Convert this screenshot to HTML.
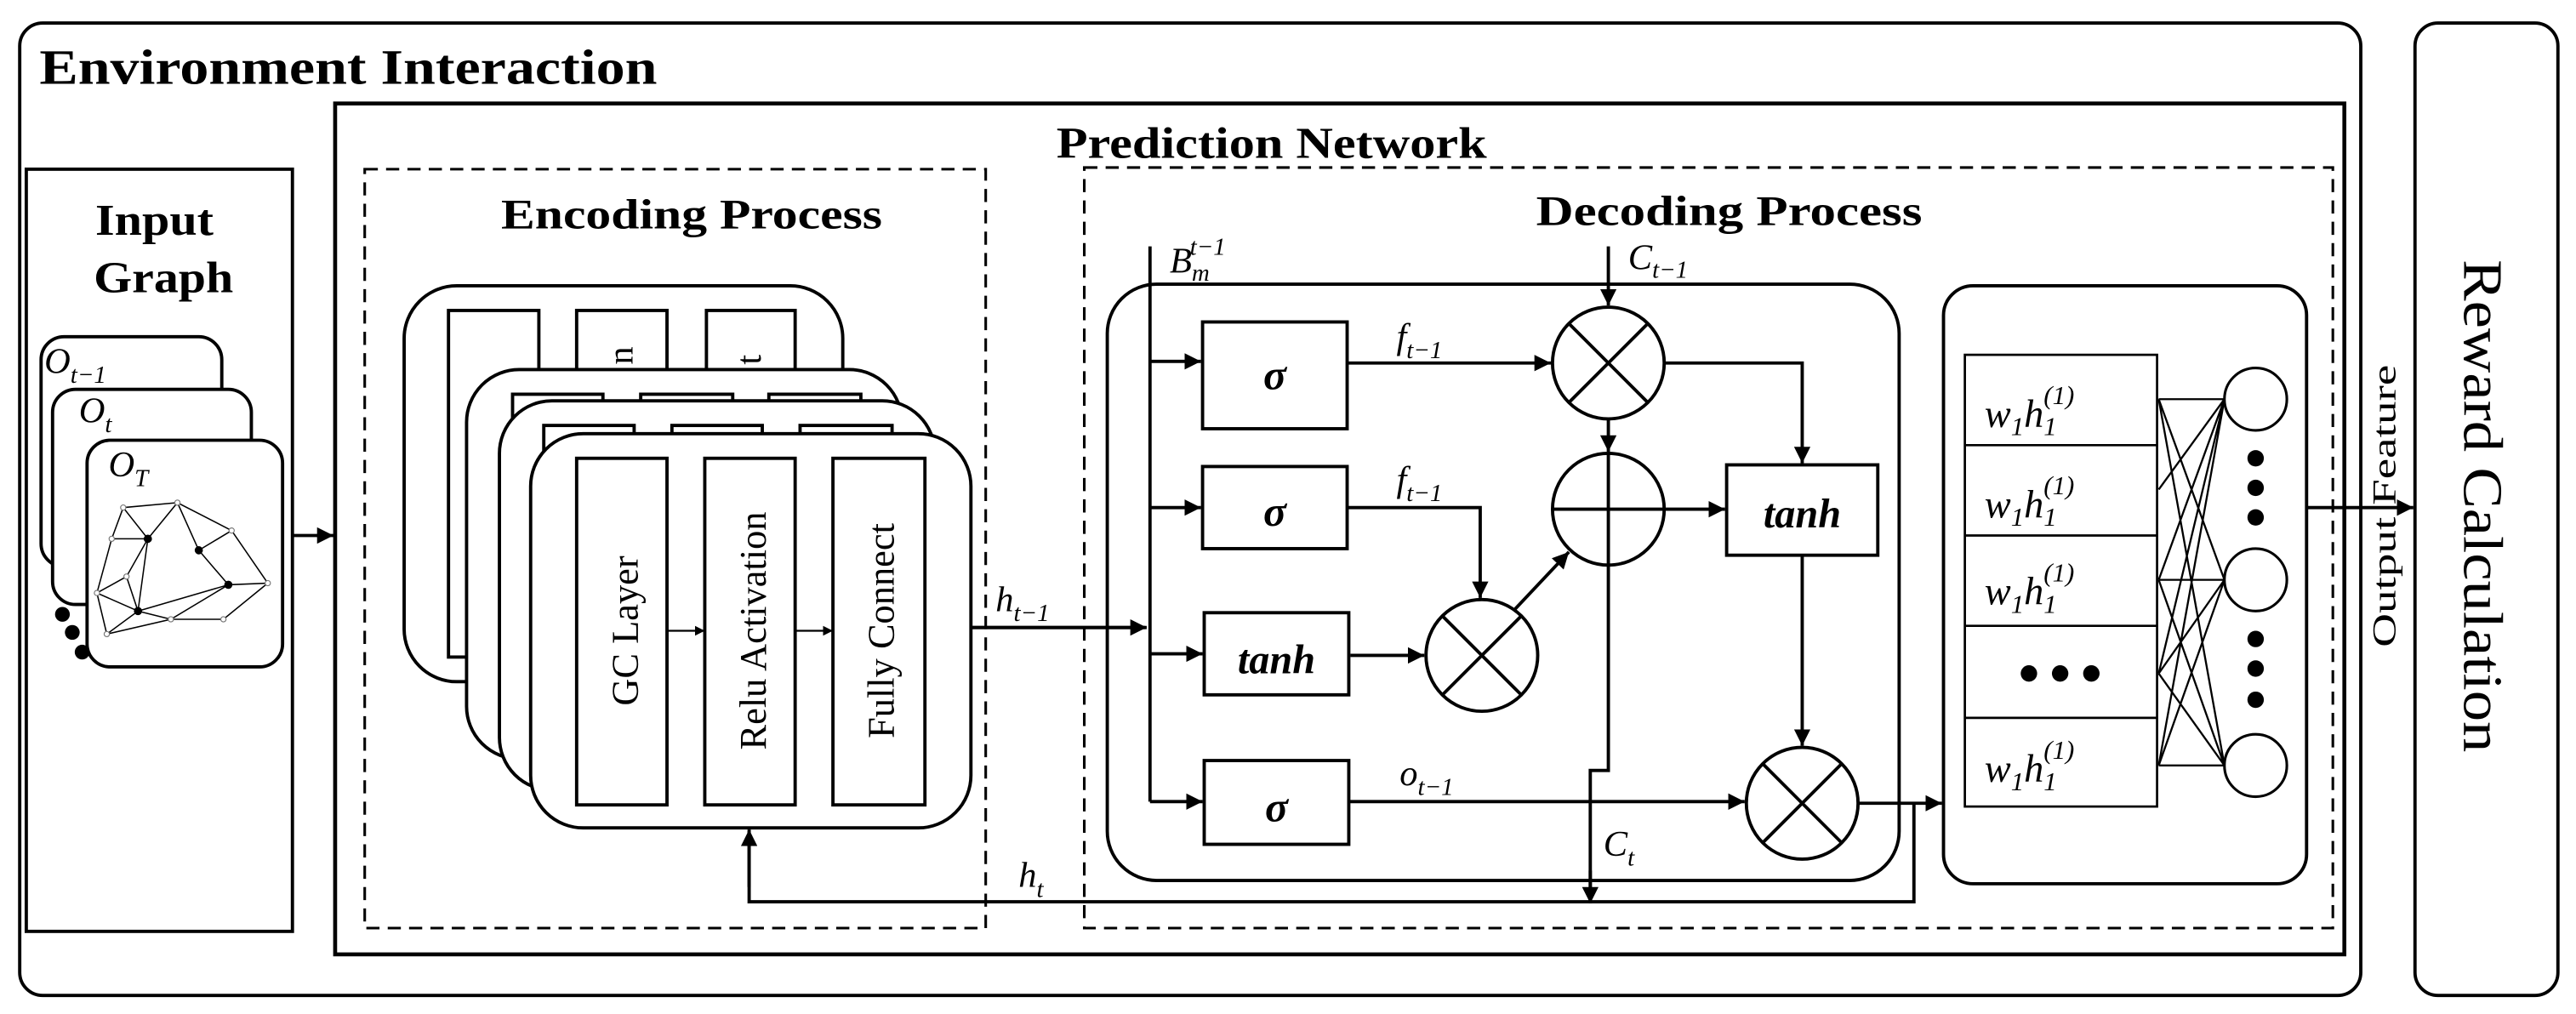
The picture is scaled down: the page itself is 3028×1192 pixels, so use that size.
<!DOCTYPE html>
<html><head><meta charset="utf-8"><style>
html,body{margin:0;padding:0;background:#fff;}
svg{display:block;}
text{font-family:"Liberation Serif",serif;fill:#000;}
.b{font-weight:bold;}
.i{font-style:italic;}
</style></head><body>
<svg width="3028" height="1192" viewBox="0 0 1568 617.3" preserveAspectRatio="none" xmlns="http://www.w3.org/2000/svg">
<defs>
<marker id="a" viewBox="0 0 10 10" refX="10" refY="5" markerWidth="5" markerHeight="5" orient="auto"><path d="M0,0L10,5L0,10z" fill="#000"/></marker>
</defs>
<g fill="none" stroke="#000" stroke-width="2">
<rect x="12" y="14" width="1425" height="592" rx="14"/>
<rect x="1470" y="14" width="87" height="592" rx="14"/>
<rect x="204" y="63" width="1223" height="518" stroke-width="2.4"/>
<rect x="16" y="103" width="162" height="464"/>
<rect x="222" y="103" width="378" height="462" stroke-dasharray="8,5" stroke-width="1.6"/>
<rect x="660" y="102" width="760" height="463" stroke-dasharray="8,5" stroke-width="1.6"/>
</g>
<text x="24" y="51" class="b" font-size="30" textLength="376" lengthAdjust="spacingAndGlyphs">Environment Interaction</text>
<text x="643" y="96" class="b" font-size="27" textLength="262" lengthAdjust="spacingAndGlyphs">Prediction Network</text>
<text x="58" y="143" class="b" font-size="27" textLength="72" lengthAdjust="spacingAndGlyphs">Input</text>
<text x="57" y="178" class="b" font-size="27" textLength="85" lengthAdjust="spacingAndGlyphs">Graph</text>
<text x="305" y="139" class="b" font-size="26" textLength="232" lengthAdjust="spacingAndGlyphs">Encoding Process</text>
<text x="935" y="137" class="b" font-size="26" textLength="235" lengthAdjust="spacingAndGlyphs">Decoding Process</text>

<g fill="#fff" stroke="#000" stroke-width="2">
<rect x="25" y="205" width="110" height="140" rx="14"/>
<rect x="32" y="237" width="121" height="131" rx="14"/>
<rect x="53" y="268" width="119" height="138" rx="14"/>
</g>
<text x="27" y="227" class="i" font-size="22">O<tspan font-size="15" dy="6">t−1</tspan></text>
<text x="48" y="257" class="i" font-size="22">O<tspan font-size="15" dy="6">t</tspan></text>
<text x="66" y="290" class="i" font-size="22">O<tspan font-size="15" dy="6">T</tspan></text>
<g stroke="#000" stroke-width="0.8" fill="none">
<path d="M75,309L108,306L141,323L163,355L139,356L104,377L65,386L59,361L68,328L75,309L90,328L108,306L121,335L139,356M90,328L68,328M90,328L77,351L84,372L65,386M59,361L77,351L84,372L104,377M90,328L84,372M77,351L59,361M84,372L139,356M121,335L141,323M163,355L136,377L104,377M59,361L84,372"/>
</g>
<g fill="#000">
<circle cx="90" cy="328" r="2.5"/><circle cx="121" cy="335" r="2.5"/><circle cx="139" cy="356" r="2.5"/><circle cx="84" cy="372" r="2.5"/>
</g>
<g fill="#fff" stroke="#777" stroke-width="0.6">
<circle cx="75" cy="309" r="1.6"/><circle cx="108" cy="306" r="1.6"/><circle cx="141" cy="323" r="1.6"/><circle cx="163" cy="355" r="1.6"/><circle cx="68" cy="328" r="1.6"/><circle cx="77" cy="351" r="1.6"/><circle cx="59" cy="361" r="1.6"/><circle cx="104" cy="377" r="1.6"/><circle cx="136" cy="377" r="1.6"/><circle cx="65" cy="386" r="1.6"/>
</g>
<g fill="#000"><circle cx="38" cy="374" r="4.5"/><circle cx="44" cy="385" r="4.5"/><circle cx="50" cy="397" r="4.5"/></g>
<line x1="178" y1="326" x2="203" y2="326" stroke="#000" stroke-width="2" marker-end="url(#a)"/>

<g fill="#fff" stroke="#000" stroke-width="2">
<rect x="246" y="174" width="267" height="241" rx="32"/>
<rect x="273" y="189" width="55" height="211"/><rect x="351" y="189" width="55" height="211"/><rect x="430" y="189" width="54" height="211"/>
</g>
<text transform="translate(385,222) rotate(-90)" font-size="22">n</text>
<text transform="translate(463,222) rotate(-90)" font-size="22">t</text>
<g fill="#fff" stroke="#000" stroke-width="2">
<rect x="284" y="225" width="265" height="237" rx="32"/>
<rect x="312" y="240" width="55" height="200"/><rect x="390" y="240" width="56" height="200"/><rect x="468" y="240" width="56" height="200"/>
<rect x="304" y="244" width="265" height="237" rx="32"/>
<rect x="331" y="259" width="55" height="200"/><rect x="409" y="259" width="55" height="200"/><rect x="487" y="259" width="56" height="200"/>
<rect x="323" y="264" width="268" height="240" rx="32"/>
<rect x="351" y="279" width="55" height="211"/><rect x="429" y="279" width="55" height="211"/><rect x="507" y="279" width="56" height="211"/>
</g>
<text transform="translate(388,384) rotate(-90)" font-size="23" text-anchor="middle">GC Layer</text>
<text transform="translate(466,384) rotate(-90)" font-size="23" text-anchor="middle">Relu Activation</text>
<text transform="translate(544,384) rotate(-90)" font-size="23" text-anchor="middle">Fully Connect</text>
<g stroke="#000" stroke-width="1.2">
<line x1="406" y1="384" x2="429" y2="384" marker-end="url(#a)"/>
<line x1="484" y1="384" x2="507" y2="384" marker-end="url(#a)"/>
</g>

<g fill="none" stroke="#000" stroke-width="2">
<rect x="674" y="173" width="482" height="363" rx="30"/>
<rect x="1183" y="174" width="221" height="364" rx="18"/>
<rect x="732" y="196" width="88" height="65"/>
<rect x="732" y="284" width="88" height="50"/>
<rect x="733" y="373" width="88" height="50"/>
<rect x="733" y="463" width="88" height="51"/>
<rect x="1051" y="283" width="92" height="55"/>
<circle cx="979" cy="221" r="34"/>
<circle cx="979" cy="310" r="34"/>
<circle cx="902" cy="399" r="34"/>
<circle cx="1097" cy="489" r="34"/>
<path d="M955,197L1003,245M1003,197L955,245M878,375L926,423M926,375L878,423M1073,465L1121,513M1121,465L1073,513"/>
<path d="M945,310H1013M979,276V469H968V549" />
<path d="M591,382H697"/>
<path d="M700,150V488"/>
<path d="M1165,489V549H456V506"/>
</g>
<g stroke="#000" stroke-width="2" fill="none">
<line x1="591" y1="382" x2="698" y2="382" marker-end="url(#a)"/>
<line x1="700" y1="220" x2="731" y2="220" marker-end="url(#a)"/>
<line x1="700" y1="309" x2="731" y2="309" marker-end="url(#a)"/>
<line x1="700" y1="398" x2="732" y2="398" marker-end="url(#a)"/>
<line x1="700" y1="488" x2="732" y2="488" marker-end="url(#a)"/>
<line x1="820" y1="221" x2="944" y2="221" marker-end="url(#a)"/>
<line x1="979" y1="150" x2="979" y2="186" marker-end="url(#a)"/>
<polyline points="1013,221 1097,221 1097,282" marker-end="url(#a)"/>
<line x1="979" y1="255" x2="979" y2="275" marker-end="url(#a)"/>
<polyline points="820,309 901,309 901,364" marker-end="url(#a)"/>
<line x1="822" y1="399" x2="867" y2="399" marker-end="url(#a)"/>
<line x1="922" y1="371" x2="955" y2="336" marker-end="url(#a)"/>
<line x1="1013" y1="310" x2="1050" y2="310" marker-end="url(#a)"/>
<line x1="1097" y1="338" x2="1097" y2="454" marker-end="url(#a)"/>
<line x1="821" y1="488" x2="1062" y2="488" marker-end="url(#a)"/>
<line x1="1131" y1="489" x2="1182" y2="489" marker-end="url(#a)"/>
<line x1="968" y1="530" x2="968" y2="550" marker-end="url(#a)"/>
<line x1="456" y1="540" x2="456" y2="505" marker-end="url(#a)"/>
<line x1="1404" y1="309" x2="1469" y2="309" marker-end="url(#a)"/>
</g>
<text x="776" y="237" class="b i" font-size="26" text-anchor="middle">σ</text>
<text x="776" y="320" class="b i" font-size="26" text-anchor="middle">σ</text>
<text x="777" y="410" class="b i" font-size="25" text-anchor="middle">tanh</text>
<text x="777" y="500" class="b i" font-size="26" text-anchor="middle">σ</text>
<text x="1097" y="321" class="b i" font-size="25" text-anchor="middle">tanh</text>
<text x="712" y="166" class="i" font-size="22">B<tspan font-size="15" dy="5">m</tspan><tspan font-size="15" dx="-12" dy="-16">t−1</tspan></text>
<text x="991" y="164" class="i" font-size="22">C<tspan font-size="15" dy="5">t−1</tspan></text>
<text x="850" y="212" class="i" font-size="22">f<tspan font-size="15" dy="6">t−1</tspan></text>
<text x="850" y="299" class="i" font-size="22">f<tspan font-size="15" dy="6">t−1</tspan></text>
<text x="852" y="478" class="i" font-size="22">o<tspan font-size="15" dy="6">t−1</tspan></text>
<text x="976" y="521" class="i" font-size="22">C<tspan font-size="15" dy="6">t</tspan></text>
<text x="606" y="372" class="i" font-size="22">h<tspan font-size="15" dy="6">t−1</tspan></text>
<text x="620" y="540" class="i" font-size="22">h<tspan font-size="15" dy="6">t</tspan></text>

<g fill="none" stroke="#000" stroke-width="1.4">
<rect x="1196" y="216" width="117" height="275"/>
<path d="M1196,271H1313M1196,326H1313M1196,381H1313M1196,437H1313"/>
<path d="M1314,243L1354,243M1314,243L1354,353M1314,243L1354,466M1314,298L1354,243M1314,353L1354,243M1314,353L1354,353M1314,353L1354,466M1314,410L1354,243M1314,410L1354,353M1314,410L1354,466M1314,466L1354,243M1314,466L1354,353M1314,466L1354,466" stroke-width="1.2"/>
</g>
<g fill="#fff" stroke="#000" stroke-width="1.6">
<ellipse cx="1373" cy="243" rx="19" ry="19"/>
<ellipse cx="1373" cy="353" rx="19" ry="19"/>
<ellipse cx="1373" cy="466" rx="19" ry="19"/>
</g>
<g fill="#000">
<circle cx="1373" cy="279" r="5"/><circle cx="1373" cy="297" r="5"/><circle cx="1373" cy="315" r="5"/>
<circle cx="1373" cy="389" r="5"/><circle cx="1373" cy="407" r="5"/><circle cx="1373" cy="426" r="5"/>
<circle cx="1235" cy="410" r="5"/><circle cx="1254" cy="410" r="5"/><circle cx="1273" cy="410" r="5"/>
</g>
<g class="i" font-size="24">
<text x="1208" y="260">w<tspan font-size="16" dy="5">1</tspan><tspan dy="-5">h</tspan><tspan font-size="16" dy="5">1</tspan><tspan font-size="16" dx="-8" dy="-19">(1)</tspan></text>
<text x="1208" y="315">w<tspan font-size="16" dy="5">1</tspan><tspan dy="-5">h</tspan><tspan font-size="16" dy="5">1</tspan><tspan font-size="16" dx="-8" dy="-19">(1)</tspan></text>
<text x="1208" y="368">w<tspan font-size="16" dy="5">1</tspan><tspan dy="-5">h</tspan><tspan font-size="16" dy="5">1</tspan><tspan font-size="16" dx="-8" dy="-19">(1)</tspan></text>
<text x="1208" y="476">w<tspan font-size="16" dy="5">1</tspan><tspan dy="-5">h</tspan><tspan font-size="16" dy="5">1</tspan><tspan font-size="16" dx="-8" dy="-19">(1)</tspan></text>
</g>
<text transform="translate(1458,308) rotate(-90)" font-size="20" text-anchor="middle" textLength="172" lengthAdjust="spacingAndGlyphs">Output Feature</text>
<text transform="translate(1500,308) rotate(90)" font-size="34" text-anchor="middle" textLength="300" lengthAdjust="spacingAndGlyphs">Reward Calculation</text>
</svg>
</body></html>
